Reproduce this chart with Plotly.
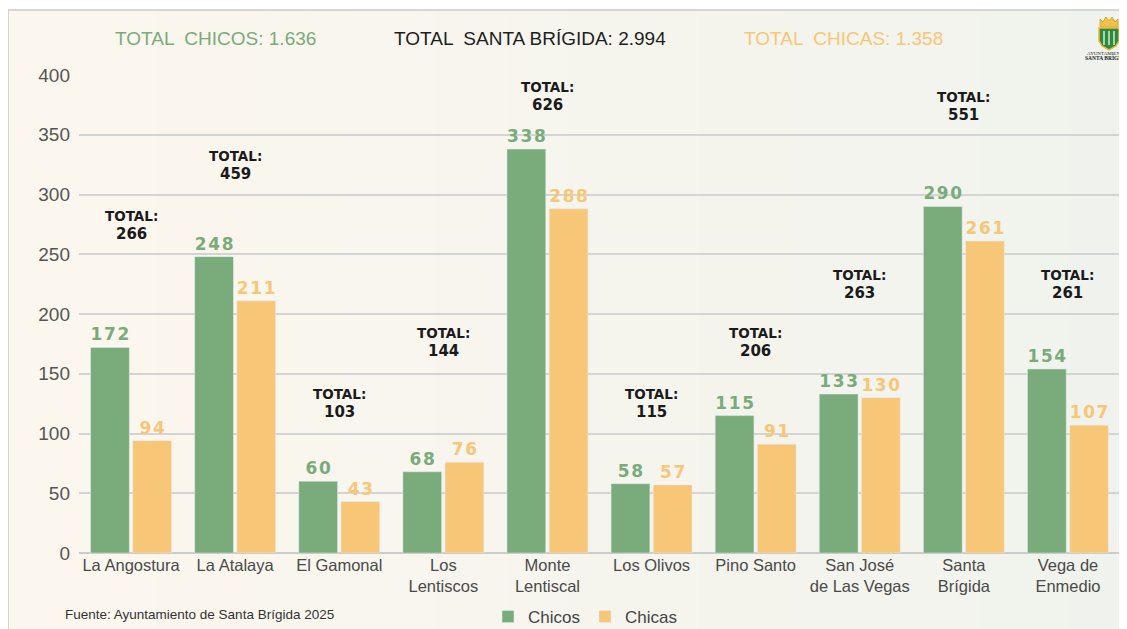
import plotly.graph_objects as go

categories = ["La Angostura", "La Atalaya", "El Gamonal", "Los<br>Lentiscos", "Monte<br>Lentiscal",
              "Los Olivos", "Pino Santo", "San José<br>de Las Vegas", "Santa<br>Brígida", "Vega de<br>Enmedio"]
chicos = [172, 248, 60, 68, 338, 58, 115, 133, 290, 154]
chicas = [94, 211, 43, 76, 288, 57, 91, 130, 261, 107]
totales = [266, 459, 103, 144, 626, 115, 206, 263, 551, 261]
total_label_y = [274, 324, 125, 176, 382, 125, 176, 225, 374, 225]

GREEN = "#79ab7b"
ORANGE = "#f8c677"

OFF = 8  # page body margin
W, H = 1127 - OFF, 629 - OFF
ML, MR, MT, MB = 79 - OFF, 7, 75 - OFF, 629 - 553
PW, PH = W - ML - MR, H - MT - MB


def px(x, y):
    """screen pixel -> paper coords"""
    x -= OFF
    y -= OFF
    return (x - ML) / PW, (H - MB - y) / PH


def spaced(v):
    return "<b>" + "\u200a".join(str(v)) + "</b>"


fig = go.Figure()
fig.add_trace(go.Bar(name="Chicos", x=categories, y=chicos, marker_color=GREEN,
                     text=[spaced(v) for v in chicos], textposition="outside",
                     textfont=dict(family="DejaVu Sans", size=17, color=GREEN),
                     cliponaxis=False))
fig.add_trace(go.Bar(name="Chicas", x=categories, y=chicas, marker_color=ORANGE,
                     text=[spaced(v) for v in chicas], textposition="outside",
                     textfont=dict(family="DejaVu Sans", size=17, color=ORANGE),
                     cliponaxis=False))

shapes = []
# background gradient panel
x0p, y0p = px(8, 10)
x1p, y1p = px(1127, 629)
n = 60
c0 = (252, 247, 238)
c1 = (240, 243, 237)
for i in range(n):
    t = i / (n - 1)
    col = "rgb(%d,%d,%d)" % tuple(round(a + (b - a) * t) for a, b in zip(c0, c1))
    xa = x0p + (x1p - x0p) * i / n
    xb = x0p + (x1p - x0p) * (i + 1) / n + 0.002
    shapes.append(dict(type="rect", xref="paper", yref="paper", x0=xa, x1=xb, y0=y1p, y1=y0p,
                       fillcolor=col, line_width=0, layer="below"))
# frame lines
shapes.append(dict(type="line", xref="paper", yref="paper", x0=x0p, x1=x1p, y0=y0p, y1=y0p,
                   line=dict(color="#d6d6d6", width=2), layer="below"))
shapes.append(dict(type="line", xref="paper", yref="paper", x0=x0p, x1=x0p, y0=y0p, y1=y1p,
                   line=dict(color="#d6d6d6", width=2), layer="below"))


# logo: crown + shield
def path(points):
    s = ""
    for i, (x, y) in enumerate(points):
        a, b = px(x, y)
        s += ("M" if i == 0 else "L") + f"{a},{b} "
    return s + "Z"


crown = [(1100, 27), (1100, 19), (1103, 22), (1106, 17), (1109, 21), (1112, 17), (1115, 22), (1118, 19), (1118, 27)]
shapes.append(dict(type="path", xref="paper", yref="paper", path=path(crown),
                   fillcolor="#f0c24a", line=dict(color="#dca82c", width=1)))
shield = [(1099, 28), (1119, 28), (1119, 41), (1116, 46), (1109, 50), (1102, 46), (1099, 41)]
shapes.append(dict(type="path", xref="paper", yref="paper", path=path(shield),
                   fillcolor="#2f8a3c", line=dict(color="#e8b83a", width=1.5)))
for xx in (1104, 1109, 1114):
    a, b = px(xx, 31)
    c, d = px(xx, 45)
    shapes.append(dict(type="line", xref="paper", yref="paper", x0=a, x1=c, y0=b, y1=d,
                       line=dict(color="#ffffff", width=1.2)))

annotations = []
headers = [("TOTAL  CHICOS: 1.636", GREEN, 215),
           ("TOTAL  SANTA BRÍGIDA: 2.994", "#1e1e1e", 530),
           ("TOTAL  CHICAS: 1.358", ORANGE, 843)]
for txt, col, xc in headers:
    a, b = px(xc, 39)
    annotations.append(dict(text=txt, x=a, y=b, xref="paper", yref="paper", showarrow=False,
                            xanchor="center", yanchor="middle",
                            font=dict(family="Liberation Sans", size=19, color=col)))

for cat, tot, yy in zip(categories, totales, total_label_y):
    annotations.append(dict(text=f"<b>TOTAL:</b><br><b><span style='font-size:15px'>{tot}</span></b>",
                            x=cat, y=yy, xref="x", yref="y", showarrow=False,
                            xanchor="center", yanchor="middle", align="center",
                            font=dict(family="DejaVu Sans", size=13.5, color="#1a1a1a")))

a, b = px(63, 614)
annotations.append(dict(text="Fuente: Ayuntamiento de Santa Brígida 2025", x=a, y=b, xref="paper", yref="paper",
                        showarrow=False, xanchor="left", yanchor="middle",
                        font=dict(family="Liberation Sans", size=13.5, color="#333333")))
a, b = px(1107, 53)
annotations.append(dict(text="AYUNTAMIENTO", x=a, y=b, xref="paper", yref="paper", showarrow=False,
                        xanchor="center", yanchor="middle",
                        font=dict(family="Liberation Serif", size=5, color="#222")))
a, b = px(1106, 58)
annotations.append(dict(text="<b>SANTA BRÍGIDA</b>", x=a, y=b, xref="paper", yref="paper", showarrow=False,
                        xanchor="center", yanchor="middle",
                        font=dict(family="Liberation Serif", size=5.5, color="#222")))

lx, ly = px(585, 617)
fig.update_layout(
    width=W, height=H,
    margin=dict(l=ML, r=MR, t=MT, b=MB, pad=0, autoexpand=False),
    paper_bgcolor="white",
    plot_bgcolor="rgba(0,0,0,0)",
    barmode="group", bargap=0.19, bargroupgap=0.08,
    font=dict(family="Liberation Sans", color="#444"),
    shapes=shapes,
    annotations=annotations,
    legend=dict(orientation="h", x=lx, y=ly, xanchor="center", yanchor="middle",
                font=dict(family="Liberation Sans", size=17, color="#444"),
                bgcolor="rgba(0,0,0,0)", itemwidth=30),
    xaxis=dict(tickfont=dict(family="Liberation Sans", size=16.5, color="#4a4a4a"),
               showgrid=False, showline=False, ticks="", automargin=False),
    yaxis=dict(range=[0, 400], dtick=50, showgrid=True, gridcolor="#d4d4d4", gridwidth=1.5,
               zeroline=True, zerolinecolor="#cccccc", zerolinewidth=2, automargin=False,
               tickfont=dict(family="Liberation Sans", size=19, color="#555555"),
               ticklabelstandoff=8),
)

fig.write_html("out.html")
